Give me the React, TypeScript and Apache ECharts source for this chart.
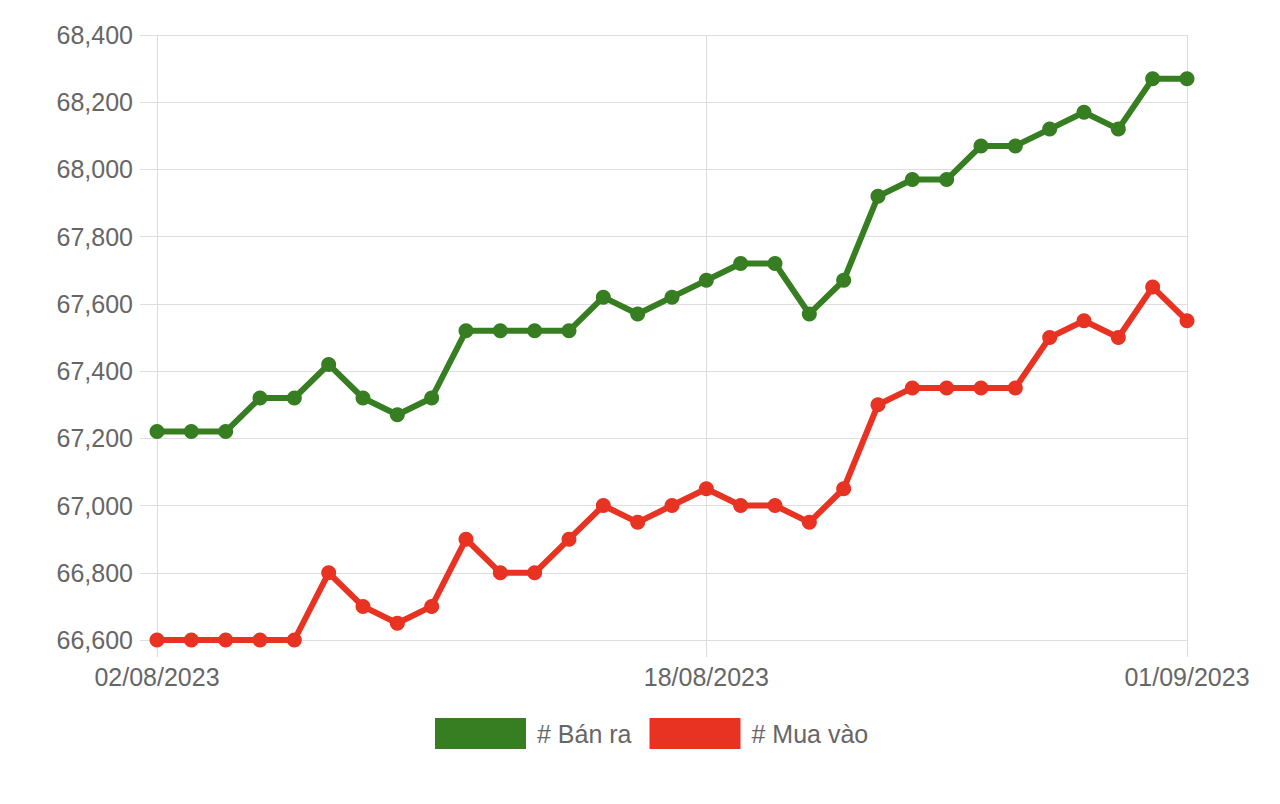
import React, { useEffect, useRef } from "react";
import * as echarts from "echarts";

const dates = [
  "02/08/2023", "03/08/2023", "04/08/2023", "05/08/2023", "06/08/2023", "07/08/2023",
  "08/08/2023", "09/08/2023", "10/08/2023", "11/08/2023", "12/08/2023", "13/08/2023",
  "14/08/2023", "15/08/2023", "16/08/2023", "17/08/2023", "18/08/2023", "19/08/2023",
  "20/08/2023", "21/08/2023", "22/08/2023", "23/08/2023", "24/08/2023", "25/08/2023",
  "26/08/2023", "27/08/2023", "28/08/2023", "29/08/2023", "30/08/2023", "31/08/2023",
  "01/09/2023",
];

const banRa = [
  67220, 67220, 67220, 67320, 67320, 67420, 67320, 67270, 67320, 67520, 67520, 67520,
  67520, 67620, 67570, 67620, 67670, 67720, 67720, 67570, 67670, 67920, 67970, 67970,
  68070, 68070, 68120, 68170, 68120, 68270, 68270,
];

const muaVao = [
  66600, 66600, 66600, 66600, 66600, 66800, 66700, 66650, 66700, 66900, 66800, 66800,
  66900, 67000, 66950, 67000, 67050, 67000, 67000, 66950, 67050, 67300, 67350, 67350,
  67350, 67350, 67500, 67550, 67500, 67650, 67550,
];

const shownTicks = [0, 16, 30];

const FONT = "'Liberation Sans', Arial, Helvetica, sans-serif";
const GREEN = "#367e21";
const RED = "#e83323";
const GRID = "#dedede";

export default function App() {
  const ref = useRef<HTMLDivElement>(null);
  useEffect(() => {
    if (!ref.current) return;
    const chart = echarts.init(ref.current, null, { renderer: "svg" });
    const showIdx = (i: number) => shownTicks.indexOf(i) >= 0;
    chart.setOption({
      animation: false,
      backgroundColor: "#ffffff",
      grid: { left: 157, right: 93, top: 35, bottom: 164, containLabel: false },
      legend: {
        left: 430,
        top: 713,
        icon: "rect",
        itemWidth: 91,
        itemHeight: 31,
        itemGap: 18,
        textStyle: { fontFamily: FONT, fontSize: 25, color: "#666666", padding: [0, 0, 0, 6] },
        data: ["# Bán ra", "# Mua vào"],
      },
      xAxis: {
        type: "category",
        boundaryGap: false,
        data: dates,
        axisLine: { show: true, lineStyle: { color: GRID, width: 1 } },
        axisTick: { show: true, length: 17, interval: (i: number) => showIdx(i), lineStyle: { color: GRID } },
        splitLine: { show: true, interval: (i: number) => showIdx(i), lineStyle: { color: GRID, width: 1 } },
        axisLabel: {
          interval: (i: number) => showIdx(i),
          fontFamily: FONT,
          fontSize: 25,
          color: "#666666",
          margin: 24,
          showMinLabel: true,
          showMaxLabel: true,
        },
      },
      yAxis: {
        type: "value",
        min: 66600,
        max: 68400,
        interval: 200,
        axisLine: { show: true, lineStyle: { color: GRID, width: 1 } },
        axisTick: { show: true, length: 17, lineStyle: { color: GRID } },
        splitLine: { show: true, lineStyle: { color: GRID, width: 1 } },
        axisLabel: {
          fontFamily: FONT,
          fontSize: 25,
          color: "#666666",
          margin: 24,
          formatter: (v: number) => v.toLocaleString("en-US"),
        },
      },
      series: [
        {
          name: "# Bán ra",
          type: "line",
          data: banRa,
          color: GREEN,
          symbol: "circle",
          symbolSize: 15,
          lineStyle: { width: 6, color: GREEN },
          itemStyle: { color: GREEN },
        },
        {
          name: "# Mua vào",
          type: "line",
          data: muaVao,
          color: RED,
          symbol: "circle",
          symbolSize: 15,
          lineStyle: { width: 6, color: RED },
          itemStyle: { color: RED },
        },
      ],
    });
    return () => chart.dispose();
  }, []);
  return (
    <div
      ref={ref}
      style={{ position: "fixed", left: 0, top: 0, width: 1280, height: 804, background: "#fff" }}
    />
  );
}
